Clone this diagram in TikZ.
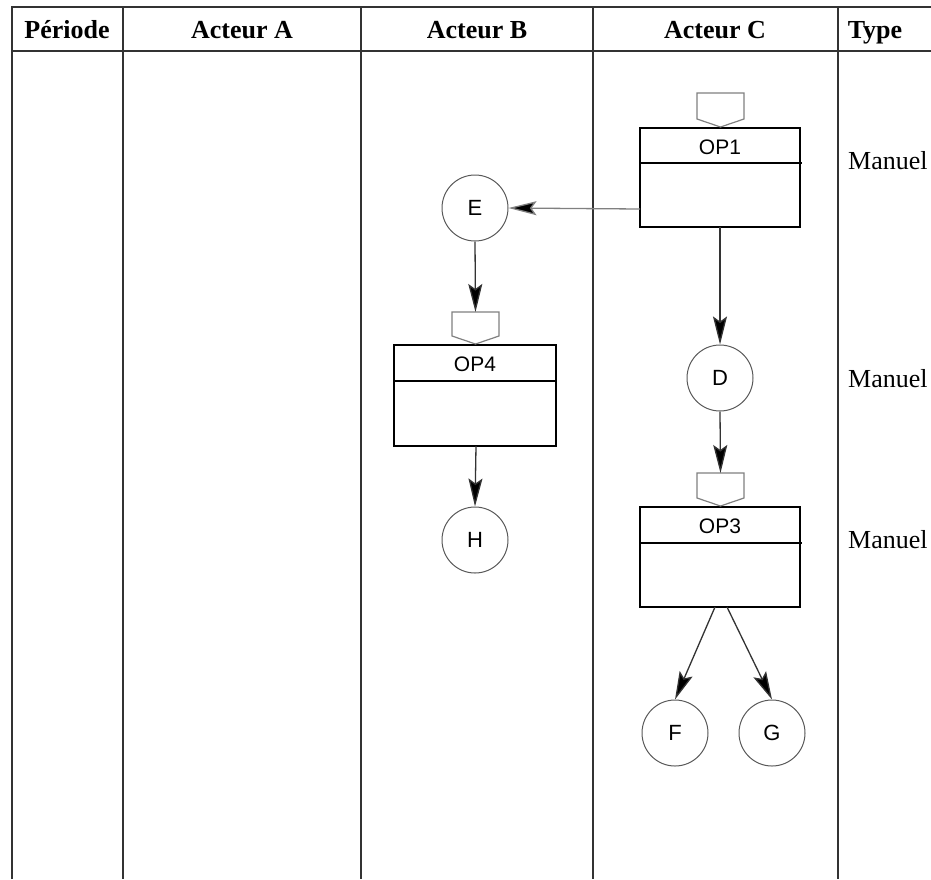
\documentclass[tikz,border=0pt]{standalone}
\usepackage{fontspec}
\setmainfont{Liberation Serif}
\newfontfamily\lsans{Liberation Sans}
\usetikzlibrary{arrows.meta}
\begin{document}
\begin{tikzpicture}[x=1pt,y=-1pt,
  grid/.style={line width=1.6pt,draw=black!80},
  hdr/.style={font=\fontsize{26}{28}\selectfont\bfseries,anchor=base},
  typ/.style={font=\fontsize{26}{30}\selectfont,anchor=base west,inner sep=0pt},
  opbox/.style={line width=1.4pt,draw=black},
  tab/.style={line width=1.2pt,draw=black!50},
  evt/.style={circle,draw=black!65,line width=1pt,minimum size=66pt,inner sep=0pt,font=\lsans\fontsize{22}{24}\selectfont},
  oplab/.style={font=\lsans\fontsize{21}{24}\selectfont,anchor=base},
  flow/.style={line width=1.3pt,draw=black!80,-{Stealth[length=28pt,width=14pt,inset=5pt,fill=black]}},
  flowg/.style={line width=1.3pt,draw=black!50,-{Stealth[length=28pt,width=14pt,inset=5pt,fill=black]}}
]
\useasboundingbox (0,0) rectangle (931,879);
% table
\draw[grid] (12,879) -- (12,7) -- (931,7);
\draw[grid] (12,51) -- (931,51);
\foreach \xx in {123,361,593,838} \draw[grid] (\xx,7) -- (\xx,879);
\node[hdr] (hP) at (67,38) {Période};
\node[hdr] (hA) at (242,38) {Acteur A};
\node[hdr] (hB) at (477,38) {Acteur B};
\node[hdr] (hC) at (715,38) {Acteur C};
\node[hdr] (hT) at (875,38) {Type};
% type labels
\node[typ] (t1) at (848,169) {Manuel};
\node[typ] (t2) at (848,387) {Manuel};
\node[typ] (t3) at (848,548) {Manuel};
% OP1
\draw[opbox] (640,128) rectangle (800,227);
\draw[opbox] (640,163) -- (802,163);
\draw[tab] (697,93) -- (744,93) -- (744,119) -- (720.5,127) -- (697,119) -- cycle;
\node[oplab] (op1) at (720,154) {OP1};
\coordinate (op1top) at (720.5,93);
\coordinate (op1bot) at (720,227);
\coordinate (op1left) at (640,209);
% OP4
\draw[opbox] (394,345) rectangle (556,446);
\draw[opbox] (394,381) -- (556,381);
\draw[tab] (452,312) -- (499,312) -- (499,336) -- (475.5,344) -- (452,336) -- cycle;
\node[oplab] (op4) at (475,371) {OP4};
\coordinate (op4top) at (475.5,312);
\coordinate (op4bot) at (476,446);
% OP3
\draw[opbox] (640,507) rectangle (800,607);
\draw[opbox] (640,543) -- (802,543);
\draw[tab] (697,473) -- (744,473) -- (744,498) -- (720.5,506) -- (697,498) -- cycle;
\node[oplab] (op3) at (720,533) {OP3};
\coordinate (op3top) at (720.5,473);
\coordinate (op3bl) at (715,607);
\coordinate (op3br) at (727,607);
% events
\node[evt] (E) at (475,208) {E};
\node[evt] (D) at (720,378) {D};
\node[evt] (H) at (475,540) {H};
\node[evt] (F) at (675,733) {F};
\node[evt] (G) at (772,733) {G};
% flows
\draw[flowg] (op1left) -- (E.east);
\draw[flow] (E.south) -- (op4top);
\draw[flow] (op1bot) -- (D.north);
\draw[flow] (D.south) -- (op3top);
\draw[flow] (op4bot) -- (H.north);
\draw[flow] (op3bl) -- (F.north);
\draw[flow] (op3br) -- (G.north);
\end{tikzpicture}
\end{document}
